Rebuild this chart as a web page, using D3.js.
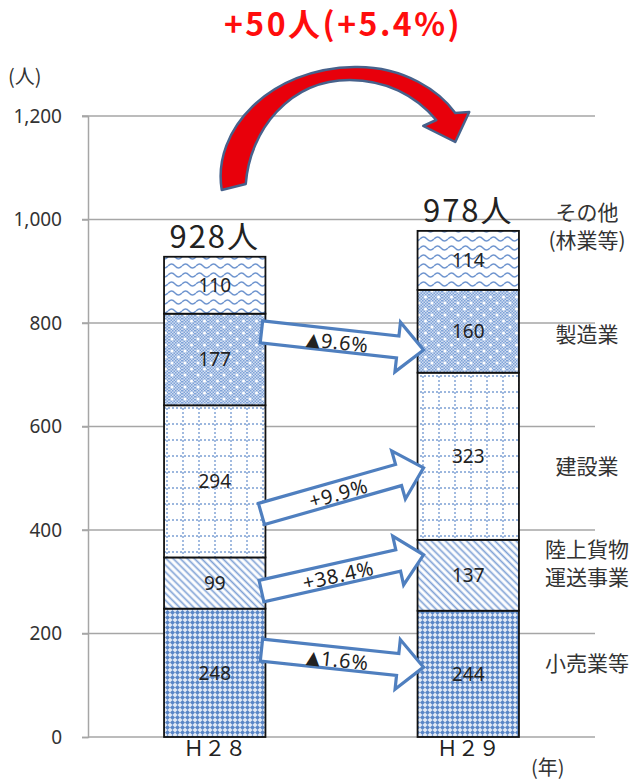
<!DOCTYPE html>
<html><head><meta charset="utf-8">
<script src="https://cdn.jsdelivr.net/npm/d3@7"></script>
<style>
html,body{margin:0;padding:0;background:#fff;}
svg{display:block;font-family:"Noto Sans CJK JP","Noto Sans",sans-serif;}
</style></head><body>
<svg id="chart" width="634" height="780"></svg>
<script>
// Workers by industry, two years (persons)
const years = ["Ｈ２８", "Ｈ２９"];
const industries = ["小売業等", "陸上貨物運送事業", "建設業", "製造業", "その他（林業等）"];
const valuesH28 = [248, 99, 294, 177, 110];
const valuesH29 = [244, 137, 323, 160, 114];
const totalLabels = ["928人", "978人"];
const changeLabels = ["▲1.6%", "+38.4%", "+9.9%", "▲9.6%"];
const sideLabels = [["小売業等"], ["陸上貨物", "運送事業"], ["建設業"], ["製造業"], ["その他", "(林業等)"]];
const yTicks = [0, 200, 400, 600, 800, 1000, 1200];
const headline = "+50人(+5.4%)";

// Annotation placement in data units (y values)
const sideLabelY = [145, 338, 526, 781, 989];
const arrowFrom = [168, 282, 431, 783];
const arrowTo = [135, 352, 520, 748];

const svg = d3.select("#chart");
const plot = {left: 88, right: 595, top: 116, bottom: 737};

const x = d3.scaleBand().domain(years).range([plot.left, plot.right]).paddingInner(0.6).paddingOuter(0.3);
const y = d3.scaleLinear().domain([0, 1200]).range([plot.bottom, plot.top]);
const bw = x.bandwidth();

// ---- fill patterns ----
const defs = svg.append("defs");

// retail: fine diamond checker
const pRetail = defs.append("pattern").attr("id", "pRetail").attr("patternUnits", "userSpaceOnUse").attr("width", 5).attr("height", 5);
pRetail.append("rect").attr("width", 5).attr("height", 5).attr("fill", "#e2eaf6");
pRetail.append("path").attr("d", "M2.5,0L5,2.5L2.5,5L0,2.5Z").attr("fill", "#5a86c6");

// transport: diagonal stripes
const pTrans = defs.append("pattern").attr("id", "pTrans").attr("patternUnits", "userSpaceOnUse").attr("width", 5).attr("height", 5).attr("patternTransform", "rotate(-45)");
pTrans.append("rect").attr("width", 5).attr("height", 5).attr("fill", "#fff");
pTrans.append("line").attr("x1", 2.5).attr("x2", 2.5).attr("y1", -1).attr("y2", 6).attr("stroke", "#7fa1d5").attr("stroke-width", 1.7);

// construction: dotted grid
const pCons = defs.append("pattern").attr("id", "pCons").attr("patternUnits", "userSpaceOnUse").attr("width", 16).attr("height", 16);
pCons.append("rect").attr("width", 16).attr("height", 16).attr("fill", "#fff");
pCons.append("line").attr("x1", 7).attr("x2", 7).attr("y1", 0).attr("y2", 16).attr("stroke", "#7b9fd4").attr("stroke-width", 1.4).attr("stroke-dasharray", "2,2");
pCons.append("line").attr("x1", 0).attr("x2", 16).attr("y1", 8).attr("y2", 8).attr("stroke", "#7b9fd4").attr("stroke-width", 1.4).attr("stroke-dasharray", "2,2");

// manufacturing: fine checker with white dots
const pFine = defs.append("pattern").attr("id", "pFine").attr("patternUnits", "userSpaceOnUse").attr("width", 3).attr("height", 3);
pFine.append("rect").attr("width", 3).attr("height", 3).attr("fill", "#d0ddf1");
pFine.append("rect").attr("width", 1.5).attr("height", 1.5).attr("fill", "#7ea2d7");
pFine.append("rect").attr("x", 1.5).attr("y", 1.5).attr("width", 1.5).attr("height", 1.5).attr("fill", "#7ea2d7");
const pManu = defs.append("pattern").attr("id", "pManu").attr("patternUnits", "userSpaceOnUse").attr("width", 13).attr("height", 12);
pManu.append("rect").attr("width", 13).attr("height", 12).attr("fill", "url(#pFine)");
pManu.append("circle").attr("cx", 3).attr("cy", 3).attr("r", 1.5).attr("fill", "#fff");
pManu.append("circle").attr("cx", 9.5).attr("cy", 9).attr("r", 1.5).attr("fill", "#fff");

// other: waves
const pWave = defs.append("pattern").attr("id", "pWave").attr("patternUnits", "userSpaceOnUse").attr("width", 14).attr("height", 9);
pWave.append("rect").attr("width", 14).attr("height", 9).attr("fill", "#fff");
pWave.append("path").attr("d", "M0,5Q3.5,1 7,5T14,5").attr("fill", "none").attr("stroke", "#6f95cf").attr("stroke-width", 1.4);

const fills = ["url(#pRetail)", "url(#pTrans)", "url(#pCons)", "url(#pManu)", "url(#pWave)"];

// ---- gridlines & axes ----
svg.append("g").selectAll("line").data(yTicks.filter(d => d > 0)).join("line")
  .attr("x1", plot.left - 6).attr("x2", plot.right)
  .attr("y1", d => y(d)).attr("y2", d => y(d))
  .attr("stroke", "#a6a6a6").attr("stroke-width", 1.5);

const yAxis = svg.append("g").attr("transform", `translate(${plot.left},0)`)
  .call(d3.axisLeft(y).tickValues(yTicks).tickFormat(d3.format(",")).tickSize(6).tickPadding(20));
yAxis.select(".domain").attr("stroke", "#a6a6a6").attr("stroke-width", 1.5);
yAxis.selectAll(".tick line").attr("stroke", "#a6a6a6").attr("stroke-width", 1.5);
yAxis.selectAll(".tick text").attr("font-size", 19).attr("fill", "#333").attr("font-family", "'Noto Sans', sans-serif");

const xAxis = svg.append("g").attr("transform", `translate(0,${plot.bottom})`)
  .call(d3.axisBottom(x).tickSize(0).tickPadding(4));
xAxis.select(".domain").attr("stroke", "#a6a6a6").attr("stroke-width", 1.5).attr("d", `M${plot.left},0H${plot.right}`);
xAxis.selectAll(".tick text").attr("font-size", 21).attr("fill", "#222").attr("font-family", "'Noto Sans CJK JP', sans-serif");

svg.append("text").attr("x", 8).attr("y", 84).attr("font-size", 20).attr("fill", "#333").text("(人)");
svg.append("text").attr("x", 531).attr("y", 775).attr("font-size", 20).attr("fill", "#333").text("(年)");

// ---- stacked bars ----
const stackByYear = years.map((yr, k) => {
  const vals = k === 0 ? valuesH28 : valuesH29;
  let acc = 0;
  return vals.map((v, i) => { const s = {year: yr, i, v, y0: acc, y1: acc + v}; acc += v; return s; });
});

const barG = svg.append("g");
stackByYear.forEach(segs => {
  const g = barG.append("g");
  g.selectAll("rect").data(segs).join("rect")
    .attr("x", d => x(d.year)).attr("width", bw)
    .attr("y", d => y(d.y1)).attr("height", d => y(d.y0) - y(d.y1))
    .attr("fill", d => fills[d.i]).attr("stroke", "#111").attr("stroke-width", 1.8);
  g.selectAll("text").data(segs).join("text")
    .attr("x", d => x(d.year) + bw / 2).attr("y", d => y((d.y0 + d.y1) / 2))
    .attr("text-anchor", "middle").attr("dominant-baseline", "central")
    .attr("font-size", 19).attr("fill", "#222").attr("font-family", "'Noto Sans', sans-serif")
    .text(d => d.v);
});

// totals
svg.append("g").selectAll("text").data(years).join("text")
  .attr("x", d => x(d) + bw / 2)
  .attr("y", (d, i) => y(d3.sum(stackByYear[i], s => s.v)) - 9)
  .attr("text-anchor", "middle").attr("font-size", 31).attr("letter-spacing", 2).attr("fill", "#222")
  .text((d, i) => totalLabels[i]);

// side labels
const sideG = svg.append("g");
sideLabels.forEach((lines, i) => {
  const t = sideG.append("text").attr("x", 587).attr("text-anchor", "middle")
    .attr("font-size", 21).attr("fill", "#333");
  const lh = 28;
  lines.forEach((ln, j) => {
    t.append("tspan").attr("x", 587)
      .attr("y", y(sideLabelY[i]) + (j - (lines.length - 1) / 2) * lh)
      .attr("dominant-baseline", "central").text(ln);
  });
});

// ---- change arrows between the two bars ----
const arrowG = svg.append("g");
const xs = x(years[0]) + bw - 4;
const xe = x(years[1]) + 6;
changeLabels.forEach((lab, i) => {
  const x0 = xs, y0 = y(arrowFrom[i]), x1 = xe, y1 = y(arrowTo[i]);
  const len = Math.hypot(x1 - x0, y1 - y0);
  const ang = Math.atan2(y1 - y0, x1 - x0) * 180 / Math.PI;
  const t = 11, hw = 25, hl = 26;
  const pts = [[0, -t], [len - hl, -t], [len - hl, -hw], [len, 0], [len - hl, hw], [len - hl, t], [0, t]];
  const g = arrowG.append("g").attr("transform", `translate(${x0},${y0}) rotate(${ang})`);
  g.append("path").attr("d", "M" + pts.map(p => p.join(",")).join("L") + "Z")
    .attr("fill", "#fff").attr("stroke", "#4f7fbf").attr("stroke-width", 3.2).attr("stroke-linejoin", "miter");
  const txt = g.append("text").attr("x", (len - hl) * 0.56).attr("y", 1)
    .attr("text-anchor", "middle").attr("dominant-baseline", "central")
    .attr("font-size", 20).attr("letter-spacing", 0.8).attr("fill", "#222").attr("font-family", "'Noto Sans', sans-serif");
  if (lab.startsWith("▲")) {
    // narrower triangle glyph for the decrease marker
    txt.append("tspan").attr("font-family", "'DejaVu Sans', sans-serif").attr("font-size", 18).text("▲");
    txt.append("tspan").text(lab.slice(1));
  } else {
    txt.text(lab);
  }
});

// ---- headline & curved arrow ----
svg.append("text").attr("x", 343).attr("y", 36).attr("text-anchor", "middle")
  .attr("font-size", 32).attr("font-weight", "bold").attr("letter-spacing", 2.5).attr("fill", "#ff0d0d")
  .text(headline);

const ax = x(years[0]) + bw / 2, bx = x(years[1]) + bw / 2, topY = y(1200);
const P = (dx, dy, base) => `${base + dx},${topY + dy}`;
const curve = [
  "M", P(7, 74, ax),
  "C", P(-3, 14, ax), P(55, -48, ax), P(140, -49, ax),
  "C", P(190 + ax - bx, -50, bx), P(-28, -24, bx), P(-13, -3, bx),
  "L", P(1, -4, bx),
  "L", P(-13, 26, bx),
  "L", P(-45, 10, bx),
  "L", P(-32, 4, bx),
  "C", P(-53, -21, bx), P(-83, -36, bx), P(135, -36, ax),
  "C", P(75, -36, ax), P(35, 14, ax), P(31, 68, ax),
  "Z"
].join(" ");
svg.append("path").attr("d", curve)
  .attr("fill", "#e8000b").attr("stroke", "#46628c").attr("stroke-width", 2.5).attr("stroke-linejoin", "round");
</script>
</body></html>
